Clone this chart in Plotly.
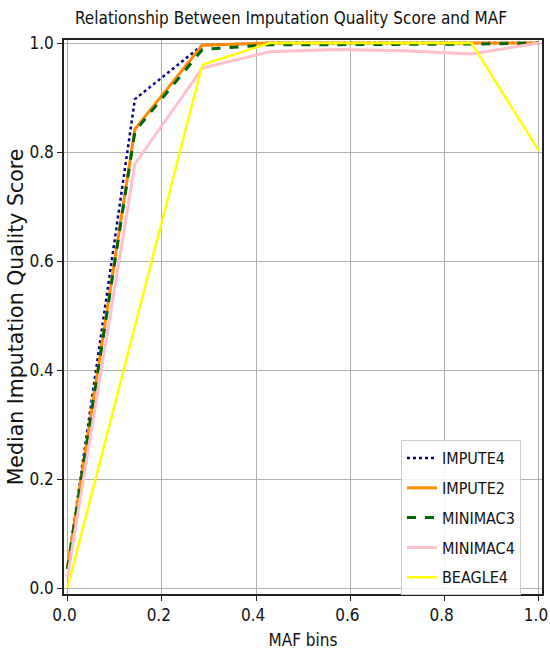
import plotly.graph_objects as go

# MAF bin centres (x) and median imputation quality score per tool
maf_bins = [0.0, 0.143, 0.286, 0.429, 0.571, 0.714, 0.857, 1.0]
impute4 = [0.035, 0.897, 0.996, 1.0, 1.0, 1.0, 1.0, 1.0]
impute2 = [0.038, 0.842, 0.996, 1.0, 1.0, 1.0, 1.0, 1.0]
minimac3 = [0.035, 0.838, 0.988, 0.997, 0.997, 0.997, 0.998, 1.0]
minimac4 = [0.020, 0.778, 0.954, 0.984, 0.988, 0.986, 0.980, 1.0]
beagle4 = [0.0, 0.480, 0.960, 1.0, 1.0, 1.0, 1.0, 0.802]

tick_vals = [0.0, 0.2, 0.4, 0.6, 0.8, 1.0]
tick_text = ["0.0", "0.2", "0.4", "0.6", "0.8", "1.0"]

NARROW = "Liberation Sans Narrow, DejaVu Sans Condensed, Arial Narrow, sans-serif"

series = [
    ("IMPUTE4", impute4, "navy", "dot", 2.5),
    ("IMPUTE2", impute2, "darkorange", "solid", 3),
    ("MINIMAC3", minimac3, "darkgreen", "dash", 3),
    ("MINIMAC4", minimac4, "pink", "solid", 3),
    ("BEAGLE4", beagle4, "yellow", "solid", 2.5),
]

fig = go.Figure()
for name, vals, color, dash, width in series:
    fig.add_trace(go.Scatter(
        x=maf_bins, y=vals, mode="lines", name=name, legendgroup=name,
        line=dict(color=color, dash=dash, width=width),
    ))

axis_common = dict(
    showgrid=True, gridcolor="#b0b0b0", gridwidth=1.2,
    showline=True, linecolor="#222222", linewidth=1.5, mirror=True,
    ticks="outside", ticklen=5, tickcolor="#222222", tickwidth=1.2,
    zeroline=False, automargin=False,
    tickvals=tick_vals, ticktext=tick_text,
    tickfont=dict(family=NARROW, size=17, color="#111111"),
)

fig.update_layout(
    width=550, height=658,
    margin=dict(l=64, r=8, t=40, b=64),
    paper_bgcolor="white", plot_bgcolor="white",
    title=dict(
        text="Relationship Between Imputation Quality Score and MAF",
        x=291 / 550, xanchor="center",
        y=1 - 18 / 658, yanchor="middle",
        font=dict(family=NARROW, size=17, color="#111111"),
    ),
    xaxis=dict(
        range=[-0.0074, 1.0064],
        ticklabeloverflow="allow", ticklabelshift=-3,
        title=dict(text="MAF bins", font=dict(family=NARROW, size=17, color="#111111"), standoff=10),
        **axis_common,
    ),
    yaxis=dict(
        range=[-0.011, 1.0055],
        title=dict(text="Median Imputation Quality Score",
                   font=dict(family="DejaVu Sans", size=20.5, color="#111111"), standoff=0),
        **axis_common,
    ),
    legend=dict(
        x=0.956, xanchor="right", y=-0.002, yanchor="bottom",
        bgcolor="rgba(255,255,255,0.85)", bordercolor="#cccccc", borderwidth=1,
        font=dict(family=NARROW, size=16, color="#111111"),
        itemwidth=30, tracegroupgap=6,
    ),
    showlegend=True,
)

fig.write_html("out.html")
